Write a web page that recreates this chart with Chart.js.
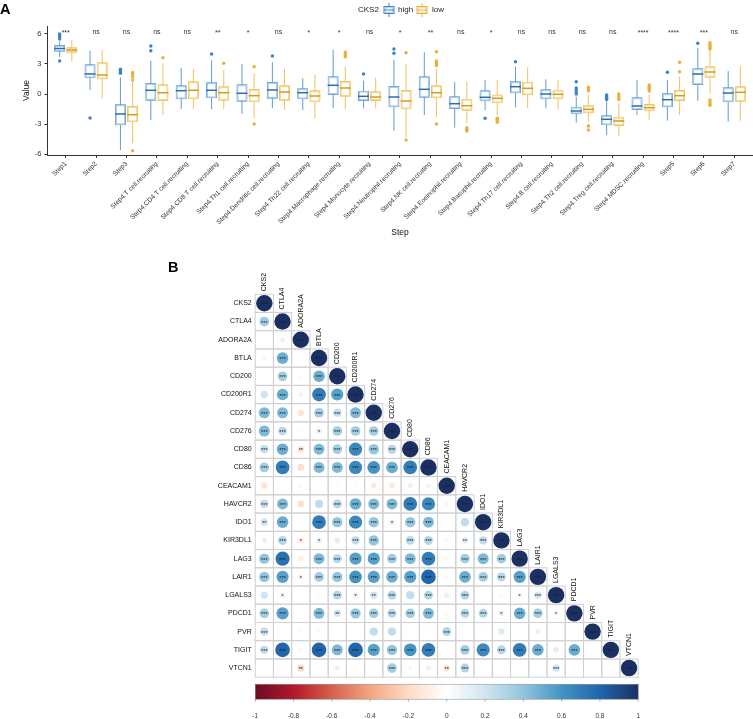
<!DOCTYPE html>
<html>
<head>
<meta charset="utf-8">
<script src="https://cdn.jsdelivr.net/npm/chart.js@4.4.1/dist/chart.umd.min.js"></script>
<style>
body { margin: 0; background: #fff; width: 753px; height: 719px; position: relative; overflow: hidden; }
canvas { position: absolute; left: 0; }
#boxChart { top: 0; }
#corrChart { top: 245px; }
</style>
</head>
<body>
<canvas id="boxChart" width="753" height="245"></canvas>
<canvas id="corrChart" width="753" height="474"></canvas>
<script>
// ---- panel A data ----
const steps = ['Step1', 'Step2', 'Step3', 'Step4.T cell.recruiting', 'Step4.CD4 T cell.recruiting',
    'Step4.CD8 T cell.recruiting', 'Step4.Th1 cell.recruiting', 'Step4.Dendritic cell.recruiting',
    'Step4.Th22 cell.recruiting', 'Step4.Macrophage.recruiting', 'Step4.Monocyte.recruiting',
    'Step4.Neutrophil.recruiting', 'Step4.NK cell.recruiting', 'Step4.Eosinophil.recruiting',
    'Step4.Basophil.recruiting', 'Step4.Th17 cell.recruiting', 'Step4.B cell.recruiting',
    'Step4.Th2 cell.recruiting', 'Step4.Treg cell.recruiting', 'Step4.MDSC.recruiting',
    'Step5', 'Step6', 'Step7'];
const sigLabels = ['***', 'ns', 'ns', 'ns', 'ns', '**', '*', 'ns', '*', '*', 'ns', '*', '**', 'ns', '*',
    'ns', 'ns', 'ns', 'ns', '****', '****', '***', 'ns'];
const yTicks = [-6, -3, 0, 3, 6];

const highMin = [3.7, 0.4, -5.6, -2.6, -1.5, -1.53, -2.0, -1.43, -1.6, -1.43, -1.43, -3.67, -2.1, -3.37, -1.6, -1.33, -1.43, -2.87, -4.1, -2.1, -2.67, -0.67, -2.77];
const highQ1 = [4.23, 1.57, -3.13, -0.67, -0.53, -0.43, -0.77, -0.47, -0.53, -0.1, -0.7, -1.33, -0.37, -1.5, -0.73, 0.07, -0.53, -2.03, -3.13, -1.6, -1.33, 0.9, -0.83];
const highMed = [4.55, 2.0, -2.0, 0.37, 0.33, 0.37, 0.07, 0.4, 0.13, 0.87, -0.23, -0.3, 0.47, -0.97, -0.33, 0.73, 0.0, -1.7, -2.53, -1.2, -0.57, 2.0, 0.1];
const highQ3 = [4.9, 2.97, -1.03, 1.1, 0.87, 1.17, 0.97, 1.2, 0.57, 1.77, 0.33, 0.8, 1.77, -0.23, 0.37, 1.27, 0.47, -1.27, -2.13, -0.33, 0.07, 2.57, 0.67];
const highMax = [5.25, 4.33, 1.67, 3.33, 2.63, 3.37, 3.0, 3.17, 1.57, 4.4, 1.33, 3.4, 4.17, 1.17, 1.4, 2.73, 1.47, -0.27, -0.75, 1.4, 1.4, 4.6, 2.3];
const highOut = [[6.0, 5.85, 5.7, 5.5, 3.3], [-2.4], [2.47, 2.35, 2.2, 2.07], [4.8, 4.33], [], [4.0], [], [3.8], [], [],
    [2.0], [4.5, 4.07], [], [], [-2.43], [3.23], [], [1.23, 0.6, 0.4, 0.2, 0.0], [-0.1, -0.2, -0.3, -0.45, -0.55],
    [], [2.17], [5.07], []];

const lowMin = [3.23, -0.43, -4.93, -2.1, -1.5, -1.53, -2.43, -1.6, -2.43, -1.5, -1.43, -4.33, -2.3, -2.93, -2.1, -1.43, -1.53, -2.77, -4.2, -2.6, -2.1, 0.07, -2.67];
const lowQ1 = [4.13, 1.47, -2.83, -0.7, -0.53, -0.67, -0.83, -0.67, -0.83, -0.27, -0.7, -1.53, -0.43, -1.67, -0.93, -0.13, -0.53, -1.93, -3.2, -1.73, -0.7, 1.63, -0.77];
const lowMed = [4.4, 1.9, -2.07, 0.13, 0.37, 0.13, -0.17, 0.2, -0.2, 0.6, -0.3, -0.7, 0.13, -1.17, -0.43, 0.57, -0.03, -1.53, -2.7, -1.37, -0.17, 2.2, 0.17];
const lowQ3 = [4.67, 3.17, -1.2, 0.97, 1.27, 0.77, 0.5, 0.87, 0.37, 1.3, 0.27, 0.4, 0.87, -0.47, 0.0, 1.23, 0.43, -1.13, -2.27, -1.0, 0.4, 2.77, 0.77];
const lowMax = [5.4, 4.4, 1.2, 3.07, 2.5, 2.4, 2.07, 2.5, 1.93, 2.73, 1.63, 2.97, 2.5, 1.23, 1.4, 2.67, 1.4, -0.1, -0.95, -0.05, 1.73, 4.4, 2.8];
const lowOut = [[], [], [2.15, 2.0, 1.75, 1.4, -5.67], [3.63], [], [3.07], [2.73, -3.0], [], [], [4.17, 4.0, 3.85, 3.73],
    [], [4.13, -4.6], [4.23, 3.3, 3.15, 3.0, 2.85, -3.0], [-3.37, -3.5, -3.6, -3.7], [-2.43, -2.55, -2.7, -2.83],
    [], [], [0.67, 0.5, 0.33, -3.2, -3.6], [0.0, -0.2, -0.35, -0.55], [0.9, 0.75, 0.6, 0.45, 0.3], [3.17, 2.23],
    [5.13, 4.95, 4.8, 4.65, 4.5, -0.6, -0.8, -1.0, -1.13], []];

// ---- panel B data ----
const genes = ['CKS2', 'CTLA4', 'ADORA2A', 'BTLA', 'CD200', 'CD200R1', 'CD274', 'CD276', 'CD80', 'CD86',
    'CEACAM1', 'HAVCR2', 'IDO1', 'KIR3DL1', 'LAG3', 'LAIR1', 'LGALS3', 'PDCD1', 'PVR', 'TIGIT', 'VTCN1'];
// lower triangle, row i holds correlations with genes 0..i-1 (diagonal is 1)
const corrRows = [
    [],
    [0.35],
    [0.03, -0.1],
    [0.06, 0.5, 0.01],
    [0.03, 0.35, -0.05, 0.5],
    [0.2, 0.5, -0.07, 0.7, 0.55],
    [0.45, 0.45, -0.15, 0.35, 0.25, 0.45],
    [0.45, 0.28, -0.04, 0.12, 0.35, 0.35, 0.35],
    [0.25, 0.5, -0.15, 0.45, 0.35, 0.65, 0.4, 0.3],
    [0.35, 0.7, -0.18, 0.45, 0.45, 0.65, 0.6, 0.5, 0.7],
    [-0.15, 0, 0.05, 0.01, 0.04, -0.04, -0.12, -0.12, -0.1, -0.08],
    [0.25, 0.45, -0.18, 0.25, 0.3, 0.5, 0.45, 0.45, 0.7, 0.65, -0.06],
    [0.2, 0.5, 0, 0.7, 0.4, 0.65, 0.4, 0.12, 0.4, 0.45, 0.03, 0.25],
    [0.1, 0.3, -0.12, 0.12, 0.12, 0.25, 0.4, 0.03, 0.28, 0.3, -0.05, 0.15, 0.25],
    [0.4, 0.75, -0.1, 0.45, 0.3, 0.55, 0.55, 0.35, 0.45, 0.7, -0.07, 0.35, 0.45, 0.35],
    [0.4, 0.55, -0.1, 0.35, 0.4, 0.6, 0.55, 0.5, 0.55, 0.8, -0.06, 0.5, 0.35, 0.3, 0.55],
    [0.2, 0.1, 0, 0.04, 0.3, 0.12, 0.2, 0.3, 0.25, 0.3, 0.1, 0.3, 0.02, 0.05, 0.08, 0.2],
    [0.35, 0.55, 0, 0.45, 0.2, 0.4, 0.35, 0.3, 0.35, 0.45, -0.05, 0.3, 0.3, 0.12, 0.5, 0.35, 0.08],
    [0.25, -0.04, 0.05, -0.05, 0.03, 0, 0.25, 0.25, 0, 0.04, 0.3, 0.01, -0.04, 0.15, 0, 0.1, 0.02, 0.02],
    [0.25, 0.8, -0.05, 0.8, 0.45, 0.8, 0.55, 0.4, 0.6, 0.7, -0.03, 0.35, 0.65, 0.3, 0.7, 0.5, 0.12, 0.5, -0.04],
    [0.02, 0.02, -0.2, 0.02, 0.1, 0, 0.04, 0.35, 0.06, 0.1, -0.15, 0.3, -0.03, 0, -0.03, 0.02, 0.2, 0.02, 0.01, 0.01]
];
// number of significance stars, same layout as corrRows
const sigRows = [
    [],
    [3],
    [0, 0],
    [0, 3, 0],
    [0, 3, 0, 3],
    [0, 3, 0, 3, 3],
    [3, 3, 0, 3, 3, 3],
    [3, 3, 0, 1, 3, 3, 3],
    [3, 3, 2, 3, 3, 3, 3, 3],
    [3, 3, 0, 3, 3, 3, 3, 3, 3],
    [0, 0, 0, 0, 0, 0, 0, 0, 0, 0],
    [3, 3, 0, 0, 3, 3, 3, 3, 3, 3, 0],
    [2, 3, 0, 3, 3, 3, 3, 1, 3, 3, 0, 0],
    [0, 3, 1, 1, 0, 3, 3, 0, 3, 3, 0, 2, 3],
    [3, 3, 0, 3, 3, 3, 3, 3, 3, 3, 0, 3, 3, 3],
    [3, 3, 1, 3, 3, 3, 3, 3, 3, 3, 0, 3, 3, 3, 3],
    [0, 1, 0, 0, 3, 1, 2, 3, 0, 3, 0, 3, 0, 0, 1, 3],
    [3, 3, 0, 3, 2, 3, 3, 3, 3, 3, 0, 3, 3, 1, 3, 3, 1],
    [3, 0, 0, 0, 0, 0, 0, 0, 0, 0, 3, 0, 0, 0, 0, 0, 0, 0],
    [3, 3, 0, 3, 3, 3, 3, 3, 3, 3, 0, 3, 3, 3, 3, 3, 0, 3, 0],
    [0, 0, 2, 0, 0, 0, 0, 3, 0, 0, 2, 3, 0, 0, 0, 0, 3, 0, 0, 0]
];
const cbTicks = [-1, -0.8, -0.6, -0.4, -0.2, 0, 0.2, 0.4, 0.6, 0.8, 1];

// ---- styles ----
Chart.defaults.font.family = 'Arial, "Liberation Sans", Helvetica, sans-serif';
const BLUE = '#3a83c4', BLUE_L = '#a9cae8', BLUE_W = '#5e9dd4', BLUE_M = '#2a6cad';
const YEL = '#e8b13a', YEL_L = '#f5d88f', YEL_W = '#eec261', YEL_M = '#d49a1f';
const rdbu = ['#6a0d24', '#B2182B', '#D6604D', '#F4A582', '#FDDBC7', '#FFFFFF',
    '#D1E5F0', '#92C5DE', '#4393C3', '#2166AC', '#1a3062'];

function corrColor(v) {
    const t = (Math.max(-1, Math.min(1, v)) + 1) / 2 * (rdbu.length - 1);
    const i = Math.min(Math.floor(t), rdbu.length - 2);
    const f = t - i;
    const a = rdbu[i], b = rdbu[i + 1];
    const c = [1, 3, 5].map(k => {
        const x = parseInt(a.substr(k, 2), 16), y = parseInt(b.substr(k, 2), 16);
        return Math.round(x + (y - x) * f);
    });
    return `rgb(${c[0]},${c[1]},${c[2]})`;
}

function intTicks(n) {
    return s => { s.ticks = Array.from({ length: n }, (_, i) => ({ value: i })); };
}

// ---- panel A: boxplots ----
const boxPlugin = {
    id: 'boxes',
    beforeDatasetsDraw(chart) {
        const ctx = chart.ctx, y = chart.scales.y;
        chart.data.datasets.forEach((ds, k) => {
            const meta = chart.getDatasetMeta(k);
            ctx.save();
            ctx.strokeStyle = ds.whisker;
            ctx.lineWidth = 1;
            meta.data.forEach((bar, i) => {
                ctx.beginPath();
                ctx.moveTo(bar.x, y.getPixelForValue(ds.stats.max[i]));
                ctx.lineTo(bar.x, y.getPixelForValue(ds.stats.min[i]));
                ctx.stroke();
            });
            ctx.restore();
        });
    },
    afterDatasetsDraw(chart) {
        const ctx = chart.ctx, y = chart.scales.y, x = chart.scales.x;
        chart.data.datasets.forEach((ds, k) => {
            const meta = chart.getDatasetMeta(k);
            ctx.save();
            meta.data.forEach((bar, i) => {
                const p = bar.getProps(['x', 'y', 'base', 'width']);
                const l = p.x - p.width / 2, top = Math.min(p.y, p.base), h = Math.abs(p.base - p.y);
                ctx.strokeStyle = ds.light;
                ctx.lineWidth = 1.4;
                ctx.strokeRect(l + 1.2, top + 1.2, p.width - 2.4, h - 2.4);
                ctx.strokeStyle = ds.medColor;
                ctx.lineWidth = 1.5;
                const m = y.getPixelForValue(ds.stats.med[i]);
                ctx.beginPath();
                ctx.moveTo(l, m);
                ctx.lineTo(l + p.width, m);
                ctx.stroke();
                ctx.fillStyle = ds.borderColor;
                ds.stats.out[i].forEach(v => {
                    ctx.beginPath();
                    ctx.arc(p.x, y.getPixelForValue(v), 1.7, 0, Math.PI * 2);
                    ctx.fill();
                });
            });
            ctx.restore();
        });
        // significance labels
        ctx.save();
        ctx.font = '7px Arial, "Liberation Sans"';
        ctx.fillStyle = '#333';
        ctx.textAlign = 'center';
        ctx.textBaseline = 'middle';
        sigLabels.forEach((s, i) => {
            const yy = y.getPixelForValue(6.2) + (s === 'ns' ? 0 : 1.5);
            ctx.fillText(s, x.getPixelForValue(i), yy);
        });
        ctx.restore();
    },
    afterDraw(chart) {
        const ctx = chart.ctx;
        ctx.save();
        ctx.fillStyle = '#000';
        ctx.font = 'bold 14.5px Arial, "Liberation Sans"';
        ctx.textBaseline = 'alphabetic';
        ctx.fillText('A', 0, 13.5);
        ctx.font = '8px Arial, "Liberation Sans"';
        ctx.fillStyle = '#222';
        ctx.textBaseline = 'middle';
        ctx.fillText('CKS2', 358, 10);
        const icon = (x0, c, cl) => {
            ctx.strokeStyle = c;
            ctx.lineWidth = 1;
            ctx.beginPath();
            ctx.moveTo(x0 + 5, 3); ctx.lineTo(x0 + 5, 6.5);
            ctx.moveTo(x0 + 5, 13.5); ctx.lineTo(x0 + 5, 17);
            ctx.stroke();
            ctx.strokeRect(x0, 6.5, 10, 7);
            ctx.strokeStyle = cl;
            ctx.strokeRect(x0 + 1.2, 7.7, 7.6, 4.6);
            ctx.strokeStyle = c;
            ctx.beginPath(); ctx.moveTo(x0, 10); ctx.lineTo(x0 + 10, 10); ctx.stroke();
        };
        icon(384, BLUE, BLUE_L);
        ctx.fillStyle = '#222';
        ctx.fillText('high', 398, 10);
        icon(417, YEL, YEL_L);
        ctx.fillStyle = '#222';
        ctx.fillText('low', 432, 10);
        ctx.restore();
    }
};

function boxSet(label, q1, q3, stats, color, light, whisker, medColor) {
    return {
        label,
        data: steps.map((s, i) => ({ x: i, y: [q1[i], q3[i]] })),
        backgroundColor: '#ffffff',
        borderColor: color,
        borderWidth: 1,
        borderSkipped: false,
        barPercentage: 0.9,
        categoryPercentage: 0.8,
        stats, light, whisker, medColor
    };
}

new Chart(document.getElementById('boxChart'), {
    type: 'bar',
    data: {
        datasets: [
            boxSet('high', highQ1, highQ3, { min: highMin, med: highMed, max: highMax, out: highOut }, BLUE, BLUE_L, BLUE_W, BLUE_M),
            boxSet('low', lowQ1, lowQ3, { min: lowMin, med: lowMed, max: lowMax, out: lowOut }, YEL, YEL_L, YEL_W, YEL_M)
        ]
    },
    options: {
        responsive: false,
        animation: false,
        devicePixelRatio: 1,
        events: [],
        layout: { padding: { top: 26, right: 0.5, left: 0, bottom: 0 } },
        plugins: { legend: { display: false }, tooltip: { enabled: false } },
        scales: {
            x: {
                type: 'linear', min: -0.6, max: 22.6, offset: false,
                afterBuildTicks: intTicks(steps.length),
                afterFit: s => { s.height = 90; },
                ticks: { autoSkip: false, minRotation: 45, maxRotation: 45, font: { size: 6.6 }, color: '#333', padding: 2, callback: v => steps[v] },
                grid: { drawOnChartArea: false, offset: false, tickLength: 3, color: '#333' },
                border: { color: '#333' },
                title: { display: true, text: 'Step', font: { size: 8.5 }, color: '#111', padding: { bottom: 7 } }
            },
            y: {
                min: -6.1, max: 6.8,
                afterBuildTicks: s => { s.ticks = yTicks.map(v => ({ value: v })); },
                afterFit: s => { s.width = 47.5; },
                ticks: { font: { size: 7.5 }, color: '#333', padding: 3 },
                grid: { drawOnChartArea: false, tickLength: 3, color: '#333' },
                border: { color: '#333' },
                title: { display: true, text: 'Value', font: { size: 8.5 }, color: '#111', padding: { top: 22 } }
            }
        }
    },
    plugins: [boxPlugin]
});

// ---- panel B: correlation matrix ----
const cells = [];
genes.forEach((g, i) => {
    corrRows[i].forEach((v, j) => cells.push({ x: j, y: i, v, s: sigRows[i][j] }));
    cells.push({ x: i, y: i, v: 1, s: 3 });
});

function cellSize(chart) {
    const a = chart.chartArea;
    return a ? (a.right - a.left) / genes.length : 0;
}

const corrPlugin = {
    id: 'corr',
    beforeDatasetsDraw(chart) {
        const ctx = chart.ctx, x = chart.scales.x, y = chart.scales.y;
        ctx.save();
        ctx.strokeStyle = '#d0d0d0';
        ctx.lineWidth = 1;
        genes.forEach((g, i) => {
            for (let j = 0; j <= i; j++) {
                const l = x.getPixelForValue(j - 0.5), r = x.getPixelForValue(j + 0.5);
                const t = y.getPixelForValue(i - 0.5), b = y.getPixelForValue(i + 0.5);
                ctx.strokeRect(l, t, r - l, b - t);
            }
        });
        ctx.restore();
    },
    afterDatasetsDraw(chart) {
        const ctx = chart.ctx, x = chart.scales.x, y = chart.scales.y, cb = chart.scales.cb;
        ctx.save();
        // stars
        ctx.fillStyle = '#1a1a1a';
        ctx.font = '5.5px Arial, "Liberation Sans"';
        ctx.textAlign = 'center';
        ctx.textBaseline = 'middle';
        cells.forEach(c => {
            if (c.s > 0) ctx.fillText('*'.repeat(c.s), x.getPixelForValue(c.x), y.getPixelForValue(c.y) + 1.5);
        });
        // column labels along the diagonal
        ctx.fillStyle = '#111';
        ctx.font = '7px Arial, "Liberation Sans"';
        ctx.textAlign = 'left';
        genes.forEach((g, j) => {
            ctx.save();
            ctx.translate(x.getPixelForValue(j), y.getPixelForValue(j - 0.5) - 3);
            ctx.rotate(-Math.PI / 2);
            ctx.fillText(g, 0, 0);
            ctx.restore();
        });
        // colour bar
        const l = cb.getPixelForValue(-1), r = cb.getPixelForValue(1);
        const top = chart.chartArea.bottom + 7, h = 15;
        const grad = ctx.createLinearGradient(l, 0, r, 0);
        rdbu.forEach((c, k) => grad.addColorStop(k / (rdbu.length - 1), c));
        ctx.fillStyle = grad;
        ctx.fillRect(l, top, r - l, h);
        ctx.strokeStyle = '#888';
        ctx.lineWidth = 0.5;
        ctx.strokeRect(l, top, r - l, h);
        ctx.strokeStyle = '#666';
        ctx.beginPath();
        cbTicks.forEach(v => {
            const px = cb.getPixelForValue(v);
            ctx.moveTo(px, top + h);
            ctx.lineTo(px, top + h + 2.5);
        });
        ctx.stroke();
        // panel letter
        ctx.fillStyle = '#000';
        ctx.font = 'bold 14.5px Arial, "Liberation Sans"';
        ctx.textAlign = 'left';
        ctx.textBaseline = 'alphabetic';
        ctx.fillText('B', 168, 26.7);
        ctx.restore();
    }
};

new Chart(document.getElementById('corrChart'), {
    type: 'scatter',
    data: {
        datasets: [{
            data: cells,
            clip: false,
            showLine: false,
            pointBorderWidth: 0,
            pointHoverRadius: 0,
            pointBackgroundColor: c => corrColor(c.raw ? c.raw.v : 0),
            pointBorderColor: c => corrColor(c.raw ? c.raw.v : 0),
            pointRadius: c => 0.45 * Math.sqrt(Math.abs(c.raw ? c.raw.v : 0)) * cellSize(c.chart)
        }]
    },
    options: {
        responsive: false,
        animation: false,
        devicePixelRatio: 1,
        events: [],
        layout: { padding: { top: 49.2, right: 114.8, left: 0, bottom: 0 } },
        plugins: { legend: { display: false }, tooltip: { enabled: false } },
        scales: {
            x: { type: 'linear', min: -0.5, max: 20.5, display: false },
            y: {
                type: 'linear', min: -0.5, max: 20.5, reverse: true,
                afterBuildTicks: intTicks(genes.length),
                afterFit: s => { s.width = 255.2; },
                ticks: { callback: v => genes[v], font: { size: 7 }, color: '#111', padding: 3.5 },
                grid: { display: false, drawTicks: false },
                border: { display: false }
            },
            cb: {
                type: 'linear', axis: 'x', position: 'bottom', min: -1, max: 1,
                afterBuildTicks: s => { s.ticks = cbTicks.map(v => ({ value: v })); },
                afterFit: s => { s.height = 41.8; },
                ticks: { callback: v => String(+v.toFixed(1)), font: { size: 6.5 }, color: '#333', padding: 35.5 },
                grid: { display: false, drawTicks: false },
                border: { display: false }
            }
        }
    },
    plugins: [corrPlugin]
});
</script>
</body>
</html>
